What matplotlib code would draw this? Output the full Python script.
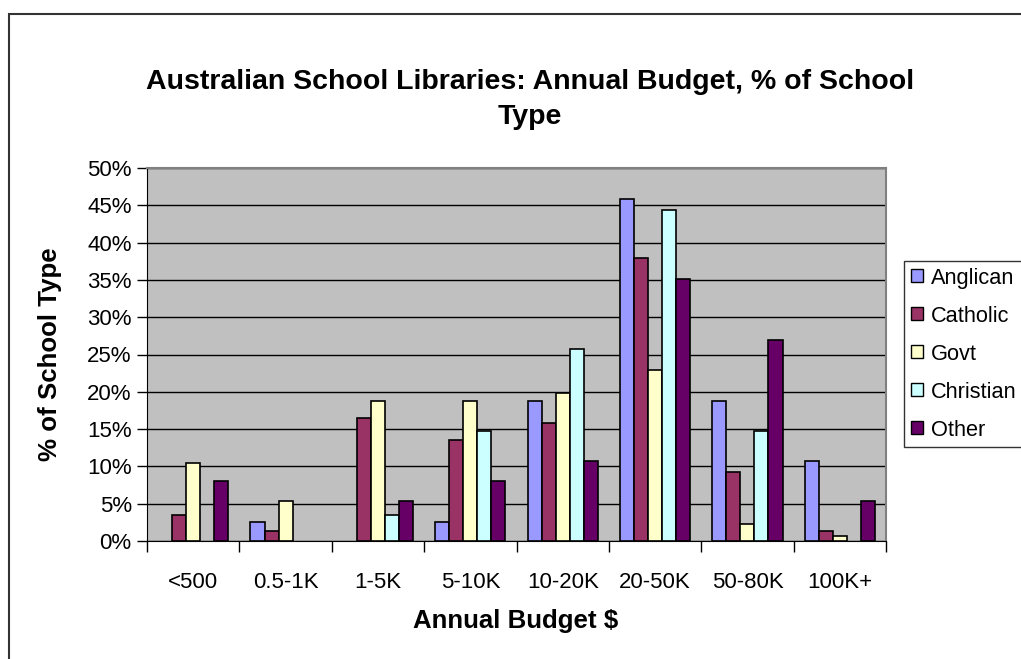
import numpy as np
import matplotlib
matplotlib.use("Agg")
import matplotlib.pyplot as plt
from matplotlib.patches import Rectangle, Patch
from matplotlib.ticker import MultipleLocator, FuncFormatter

plt.rcParams['font.family'] = ['Liberation Sans', 'DejaVu Sans']

# categorias e valores (% do tipo de escola)
categorias = ['<500', '0.5-1K', '1-5K', '5-10K', '10-20K', '20-50K', '50-80K', '100K+']
anglican  = [0.0, 2.6, 0.0, 2.6, 18.8, 45.8, 18.8, 10.7]
catholic  = [3.5, 1.4, 16.5, 13.6, 15.8, 38.0, 9.3, 1.4]
govt      = [10.4, 5.4, 18.8, 18.8, 19.8, 22.9, 2.3, 0.7]
christian = [0.0, 0.0, 3.5, 14.8, 25.7, 44.4, 14.8, 0.0]
other     = [8.0, 0.0, 5.4, 8.0, 10.7, 35.1, 26.9, 5.4]

series = [('Anglican', anglican, '#9999FF'),
          ('Catholic', catholic, '#993366'),
          ('Govt', govt, '#FFFFCC'),
          ('Christian', christian, '#CCFFFF'),
          ('Other', other, '#660066')]

W, H = 1021, 659
fig = plt.figure(figsize=(W/100, H/100), dpi=100)
ax = fig.add_axes([147/W, 1-541/H, (886-147)/W, (541-168)/H])
ax.set_facecolor('#C0C0C0')

x = np.arange(len(categorias))
larg = 0.152
handles = []
for i, (nome, vals, cor) in enumerate(series):
    lw = [1.2 if v > 0 else 0 for v in vals]  # barras zero nao aparecem
    ax.bar(x + (i-2)*larg, vals, larg, color=cor, edgecolor='black', linewidth=lw,
           zorder=3)
    handles.append(Patch(facecolor=cor, edgecolor='black', linewidth=1, label=nome))

ax.set_xlim(-0.5, len(categorias)-0.5)
ax.set_ylim(0, 50)
ax.yaxis.set_major_locator(MultipleLocator(5))
ax.yaxis.set_major_formatter(FuncFormatter(lambda v, p: '%d%%' % v))
ax.grid(axis='y', color='black', linewidth=1, zorder=1)
ax.set_axisbelow(True)

ax.set_xticks(x)
ax.set_xticklabels(categorias, fontsize=16)
ax.tick_params(axis='x', length=0, pad=22)
ax.set_xticks(np.arange(-0.5, len(categorias)), minor=True)
ax.tick_params(axis='x', which='minor', length=8, width=1, direction='out')
ax.tick_params(axis='y', length=7, width=1, labelsize=16, pad=4)

for s in ['top', 'right']:
    ax.spines[s].set_color('#808080')
    ax.spines[s].set_linewidth(1.5)
ax.spines['left'].set_color('black')
ax.spines['bottom'].set_color('black')

fig.text(530/W, 1-82/H, 'Australian School Libraries: Annual Budget, % of School',
         ha='center', va='center', fontsize=20.5, fontweight='bold')
fig.text(530/W, 1-117/H, 'Type', ha='center', va='center', fontsize=20.5, fontweight='bold')
fig.text(50/W, 1-354/H, '% of School Type', ha='center', va='center', rotation=90,
         fontsize=18.6, fontweight='bold')
fig.text(516/W, 1-621/H, 'Annual Budget $', ha='center', va='center',
         fontsize=18.6, fontweight='bold')

leg = fig.legend(handles=handles, loc='upper left', bbox_to_anchor=(904/W, 1-261/H),
                 fontsize=15.7, frameon=True, fancybox=False, edgecolor='black',
                 handlelength=0.55, handleheight=0.55, handletextpad=0.4,
                 labelspacing=0.78, borderpad=0.3, borderaxespad=0)
leg.get_frame().set_linewidth(1)

# moldura do grafico
fig.patches.append(Rectangle((9/W, -0.1), 1.2, 1-14/H+0.1, transform=fig.transFigure,
                             fill=False, edgecolor='#333333', linewidth=1.5))

fig.savefig('out.png', dpi=100)
